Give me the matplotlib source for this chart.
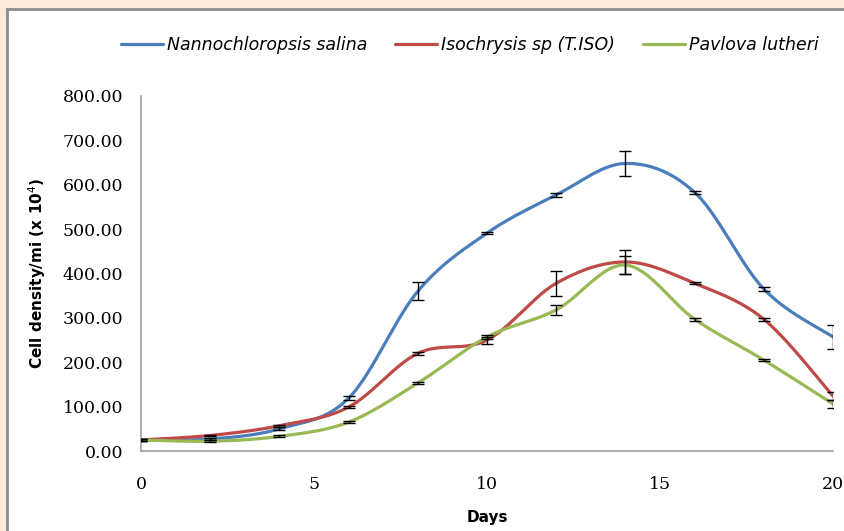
import numpy as np
import matplotlib
matplotlib.use('Agg')
import matplotlib.pyplot as plt
from matplotlib.patches import Rectangle

days = [0, 2, 4, 6, 8, 10, 12, 14, 16, 18, 20]

nanno = [25, 27, 50, 119, 360, 491, 577, 648, 583, 365, 257]
nanno_err = [2, 2, 3, 4, 20, 3, 4, 29, 4, 4, 27]

iso = [25, 35, 57, 99, 220, 250, 378, 426, 378, 297, 124]
iso_err = [2, 2, 2, 3, 3, 8, 28, 28, 2, 3, 8]

pav = [25, 22, 33, 65, 153, 257, 318, 419, 297, 205, 106]
pav_err = [2, 2, 2, 2, 3, 4, 12, 20, 3, 3, 8]

names = ['Nannochloropsis salina', 'Isochrysis sp (T.ISO)', 'Pavlova lutheri']
colors = ['#4a7ebb', '#be4b48', '#98b954']


def smooth(x, y, n=30):
    # Catmull-Rom style bezier, like excel's smoothed lines
    x = np.asarray(x, float)
    y = np.asarray(y, float)
    px = np.concatenate([[x[0]], x, [x[-1]]])
    py = np.concatenate([[y[0]], y, [y[-1]]])
    xs, ys = [], []
    t = np.linspace(0, 1, n)
    for i in range(1, len(px) - 2):
        p0 = np.array([px[i], py[i]])
        p3 = np.array([px[i + 1], py[i + 1]])
        c1 = p0 + (np.array([px[i + 1], py[i + 1]]) - np.array([px[i - 1], py[i - 1]])) / 6
        c2 = p3 - (np.array([px[i + 2], py[i + 2]]) - np.array([px[i], py[i]])) / 6
        b = ((1 - t) ** 3)[:, None] * p0 + (3 * (1 - t) ** 2 * t)[:, None] * c1 \
            + (3 * (1 - t) * t ** 2)[:, None] * c2 + (t ** 3)[:, None] * p3
        xs.extend(b[:, 0])
        ys.extend(b[:, 1])
    return xs, ys


fig = plt.figure(figsize=(8.45, 5.31), dpi=100)
fig.patch.set_facecolor('#fdeadb')

# white panel with grey border
bg = fig.add_axes([0, 0, 1, 1], zorder=-5)
bg.set_xlim(0, 845)
bg.set_ylim(531, 0)
bg.axis('off')
bg.add_patch(Rectangle((7, 9), 845, 531, facecolor='white', edgecolor='#8c8c8c', linewidth=2))

ax = fig.add_axes([141 / 845, (531 - 451) / 531, (833 - 141) / 845, (451 - 96) / 531])
ax.set_facecolor('none')

for ys, err, name, c in zip([nanno, iso, pav], [nanno_err, iso_err, pav_err], names, colors):
    sx, sy = smooth(days, ys)
    ax.plot(sx, sy, color=c, lw=2.3, label=name, zorder=3, solid_capstyle='round')
    ax.errorbar(days, ys, yerr=err, fmt='none', ecolor='black', elinewidth=1,
                capsize=4, capthick=1, zorder=4)

ax.set_xlim(0, 20)
ax.set_ylim(0, 800)
ax.set_xticks([0, 5, 10, 15, 20])
ax.set_yticks(np.arange(0, 801, 100))
ax.set_yticklabels([f'{v:.2f}' for v in np.arange(0, 801, 100)])
ax.tick_params(length=0, labelsize=12.5)
ax.tick_params(axis='x', pad=18)
ax.tick_params(axis='y', pad=13)
for lab in ax.get_xticklabels() + ax.get_yticklabels():
    lab.set_fontfamily('DejaVu Serif')
for s in ['top', 'right']:
    ax.spines[s].set_visible(False)
for s in ['left', 'bottom']:
    ax.spines[s].set_color('#a0a0a0')
    ax.spines[s].set_linewidth(1.2)

ax.set_xlabel('Days', fontsize=11, fontweight='bold', labelpad=12)
ax.set_ylabel('Cell density/mi (x 10$^4$)', fontsize=11, fontweight='bold', labelpad=10)

leg = fig.legend(loc='center', bbox_to_anchor=(470 / 845, 1 - 45 / 531), ncol=3, frameon=False,
                 prop={'style': 'italic', 'size': 12.5}, handlelength=2.4, columnspacing=1.6,
                 handletextpad=0.25)

fig.savefig('out.png', dpi=100, facecolor=fig.get_facecolor())
